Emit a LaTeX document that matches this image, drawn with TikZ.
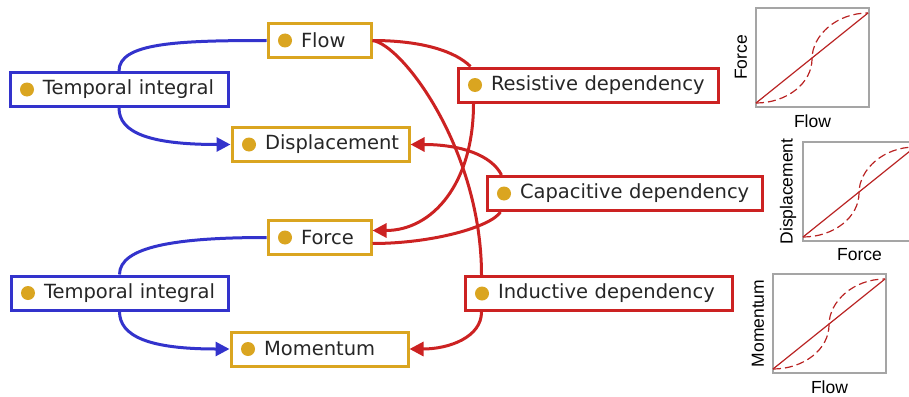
\documentclass[tikz,border=0pt]{standalone}
\usepackage{fontspec}
\setmainfont{DejaVu Sans}
\newfontfamily\plotfont{Liberation Sans}
\usetikzlibrary{arrows.meta,calc}

\definecolor{conceptgold}{RGB}{218,165,32}
\definecolor{integblue}{RGB}{51,51,204}
\definecolor{depred}{RGB}{204,34,34}
\definecolor{curvered}{RGB}{185,35,35}
\definecolor{framegray}{RGB}{165,165,165}

\tikzset{
	concept/.style={draw=conceptgold, line width=3pt, fill=white, inner xsep=6pt, inner ysep=4pt,
		minimum height=34pt, align=left, text=black!85, font=\fontsize{19.5}{22}\selectfont,
		execute at begin node={\hspace*{27pt}},
		path picture={\fill[conceptgold] ([xshift=17pt]path picture bounding box.west) circle (7pt);}},
	integral/.style={concept, draw=integblue},
	dependency/.style={concept, draw=depred},
	integ/.style={integblue, line width=3pt},
	dep/.style={depred, line width=3pt},
	pointed/.style={-{Triangle[length=14pt,width=14pt]}},
	axislabel/.style={font=\plotfont\fontsize{17.5}{20}\selectfont, inner sep=0pt},
}

\begin{document}
\begin{tikzpicture}[x=1pt,y=-1pt]
	\useasboundingbox (0,0) rectangle (909,396);
	% quantities
		\node[concept, text width=91pt] (flow) at (319.5,40.5) {Flow};
		\node[concept, text width=165pt] (disp) at (320.5,144.5) {Displacement};
		\node[concept, text width=91pt] (force) at (319.5,237.5) {Force};
		\node[concept, text width=165pt] (mom) at (319.5,349) {Momentum};
	% integrals
		\node[integral, text width=206pt] (tiA) at (119,89.5) {Temporal integral};
		\node[integral, text width=205pt] (tiB) at (119.5,293) {Temporal integral};
	% dependencies
		\node[dependency, text width=248pt] (res) at (588,85) {Resistive dependency};
		\node[dependency, text width=263pt] (cap) at (624.5,193.5) {Capacitive dependency};
		\node[dependency, text width=255pt] (ind) at (598.5,293.5) {Inductive dependency};
	% blue edges
		\draw[integ] (flow.west) .. controls +(-90,0) and +(0,-28) .. (tiA.north);
		\draw[integ,pointed] (tiA.south) .. controls +(0,25) and +(-80,0) .. (disp.west);
		\draw[integ] (force.west) .. controls +(-90,0) and +(0,-28) .. (tiB.north);
		\draw[integ,pointed] (tiB.south) .. controls +(0,25) and +(-80,0) .. (mom.west);
	% red edges
		\draw[dep] (flow.east) .. controls +(50,0) and +(-15,-15) .. ($(res.north west)+(14,0)$);
		\draw[dep,pointed] ($(res.south west)+(17,0)$) .. controls +(0,80) and +(60,0) .. ($(force.east)+(0,-7)$);
		\draw[dep] ($(force.east)+(0,6)$) .. controls +(60,0) and +(-10,15) .. ($(cap.south west)+(15,0)$);
		\draw[dep,pointed] ($(cap.north west)+(16,0)$) .. controls +(-10,-20) and +(50,0) .. (disp.east);
		\draw[dep] (flow.east) .. controls +(30,4) and +(0,-125) .. ($(ind.north west)+(18,0)$);
		\draw[dep,pointed] ($(ind.south west)+(18,0)$) .. controls +(0,25) and +(40,0) .. (mom.east);
	% characteristic curves
	\foreach \px/\py/\ylab/\xlab/\k in {756/107/Force/Flow/1, 803/241/Displacement/Force/2, 773/373/Momentum/Flow/3}{
		\begin{scope}[shift={(\px,\py)}]
			\draw[framegray, line width=1.2pt] (0,0) rectangle (113,-99);
			\draw[curvered, line width=1.2pt] (0,-4) -- (112,-94);
			\draw[curvered, line width=1.2pt, dash pattern=on 8pt off 4pt] (0,-4) .. controls (31,-4) and (56,-24) .. (56,-48) .. controls (56,-72) and (81,-94) .. (112,-94);
			\node[axislabel, rotate=90] (ylab\k) at (-15,-49.5) {\ylab};
			\node[axislabel] (xlab\k) at (56.5,14) {\xlab};
		\end{scope}
	}
\end{tikzpicture}
\end{document}
